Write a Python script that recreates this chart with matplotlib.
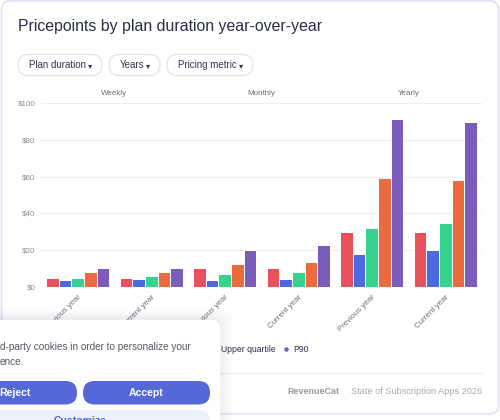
import matplotlib
matplotlib.use('Agg')
import matplotlib.pyplot as plt
import numpy as np
from matplotlib.patches import FancyBboxPatch
from matplotlib.lines import Line2D

# data
plans = ['Weekly', 'Monthly', 'Yearly']
periods = ['Previous year', 'Current year']
series = ['Median', 'P10', 'Lower quartile', 'Upper quartile', 'P90']
colors = ['#e9525d', '#4d69df', '#36d38e', '#eb6a3f', '#7a5cbb']

median = [5, 5, 10, 10, 30, 30]
p10 = [3.5, 4, 3.5, 4, 18, 20]
lower_q = [5, 6, 7, 8, 32, 35]
upper_q = [8, 8, 12.5, 13.5, 59, 58]
p90 = [10, 10, 20, 23, 91.5, 90]
values = [median, p10, lower_q, upper_q, p90]

yticks = [0, 20, 40, 60, 80, 100]

W, H = 500, 420
FONT = ['Liberation Sans', 'DejaVu Sans']
plt.rcParams['font.family'] = FONT

fig = plt.figure(figsize=(W / 100, H / 100), dpi=100)
fig.patch.set_facecolor('white')

# background layer in pixel coordinates (card, title, filters, footer)
bg = fig.add_axes([0, 0, 1, 1], zorder=0)
bg.set_xlim(0, W)
bg.set_ylim(H, 0)
bg.axis('off')

bg.add_patch(FancyBboxPatch((1.5, 0.8), 497, 413, boxstyle='round,pad=0,rounding_size=9',
                            fc='white', ec='#e3e5f6', lw=1.3))
bg.text(18, 26.5, 'Pricepoints by plan duration year-over-year', fontsize=11.4,
        color='#2b2d48', va='center', ha='left')

pills = [('Plan duration', 18, 102), ('Years', 109, 160), ('Pricing metric', 167, 253)]
for label, x0, x1 in pills:
    bg.add_patch(FancyBboxPatch((x0, 54.5), x1 - x0, 21, boxstyle='round,pad=0,rounding_size=10.5',
                                fc='white', ec='#e2e3ea', lw=0.9))
    bg.text(x0 + 11, 65.5, label, fontsize=7, color='#33354f', va='center', ha='left')
    bg.text(x1 - 11.5, 65.5, '▾', fontsize=6, color='#33354f', va='center', ha='center',
            family='DejaVu Sans')

bg.plot([18, 482], [372.5, 372.5], color='#ececf2', lw=0.8)
bg.text(340, 392, 'RevenueCat', fontsize=6.5, color='#9b9ba6', ha='right', va='center',
        fontweight='bold')
bg.text(482, 392, 'State of Subscription Apps 2026', fontsize=6.6, color='#a9a9b3',
        ha='right', va='center')

# chart
ax = fig.add_axes([41 / W, (H - 286.7) / H, 441 / W, 183.4 / H], zorder=1)
ax.set_facecolor('none')
x = np.arange(len(plans) * len(periods))
bw = 0.172
for i, (name, vals, c) in enumerate(zip(series, values, colors)):
    ax.bar(x + (i - 2) * bw, vals, width=bw, color=c, edgecolor='white', linewidth=0.7,
           label=name, zorder=3)

ax.set_xlim(-0.5, len(x) - 0.5)
ax.set_ylim(0, 100)
ax.set_yticks(yticks)
ax.set_yticklabels(['$%d' % v for v in yticks])
ax.grid(axis='y', color='#eeeef2', lw=0.8, zorder=0)
for s in ax.spines.values():
    s.set_visible(False)
ax.tick_params(axis='both', length=0, labelsize=5.8, colors='#8d8d99')
ax.tick_params(axis='y', pad=4)
ax.tick_params(axis='x', pad=5)
ax.set_xticks(x)
ax.set_xticklabels(periods * len(plans), rotation=45, ha='right', rotation_mode='anchor',
                   color='#6d6d7a')

for j, plan in enumerate(plans):
    ax.text(2 * j + 0.5, 1.055, plan, transform=ax.get_xaxis_transform(), fontsize=5.8,
            color='#6d6d7a', ha='center', va='center')

handles = [Line2D([], [], ls='none', marker='o', ms=2.2, color=c) for c in colors]
ax.legend(handles, series, ncol=5, frameon=False, loc='center right',
          bbox_to_anchor=(308.5 / W, (H - 350) / H), bbox_transform=fig.transFigure,
          fontsize=6.2, labelcolor='#2b2d48', handlelength=0.6, handletextpad=0.5,
          columnspacing=0.9, borderpad=0, borderaxespad=0)

# cookie banner overlapping the chart
ov = fig.add_axes([0, 0, 1, 1], zorder=5)
ov.set_xlim(0, W)
ov.set_ylim(H, 0)
ov.axis('off')
ov.patch.set_alpha(0)

for k in range(6):
    ov.add_patch(FancyBboxPatch((-20, 318 - k * 1.5), 240 + k * 2.5, 140,
                                boxstyle='round,pad=0,rounding_size=10',
                                fc='#20224a', ec='none', alpha=0.012, zorder=1))
ov.add_patch(FancyBboxPatch((-20, 320), 240, 140, boxstyle='round,pad=0,rounding_size=8',
                            fc='white', ec='none', zorder=2))
ov.text(0, 347, 'd-party cookies in order to personalize your', fontsize=7.2,
        color='#55566a', ha='left', va='center', zorder=3)
ov.text(0, 362, 'ence.', fontsize=7.2, color='#55566a', ha='left', va='center', zorder=3)

ov.add_patch(FancyBboxPatch((-60, 381), 137, 23.5, boxstyle='round,pad=0,rounding_size=11.7',
                            fc='#5468d8', ec='none', zorder=3))
ov.text(-0.5, 392.5, 'Reject', fontsize=7.6, color='white', fontweight='bold',
        ha='left', va='center', zorder=4)
ov.add_patch(FancyBboxPatch((83, 381), 127, 23.5, boxstyle='round,pad=0,rounding_size=11.7',
                            fc='#5468d8', ec='none', zorder=3))
ov.text(146.5, 392.5, 'Accept', fontsize=7.6, color='white', fontweight='bold',
        ha='center', va='center', zorder=4)
ov.add_patch(FancyBboxPatch((-60, 410), 270, 24, boxstyle='round,pad=0,rounding_size=11.7',
                            fc='#eef0fb', ec='none', zorder=3))
ov.text(80, 421.5, 'Customize', fontsize=7.6, color='#5468d8', fontweight='bold',
        ha='center', va='center', zorder=4)

fig.savefig('out.png', dpi=100)
